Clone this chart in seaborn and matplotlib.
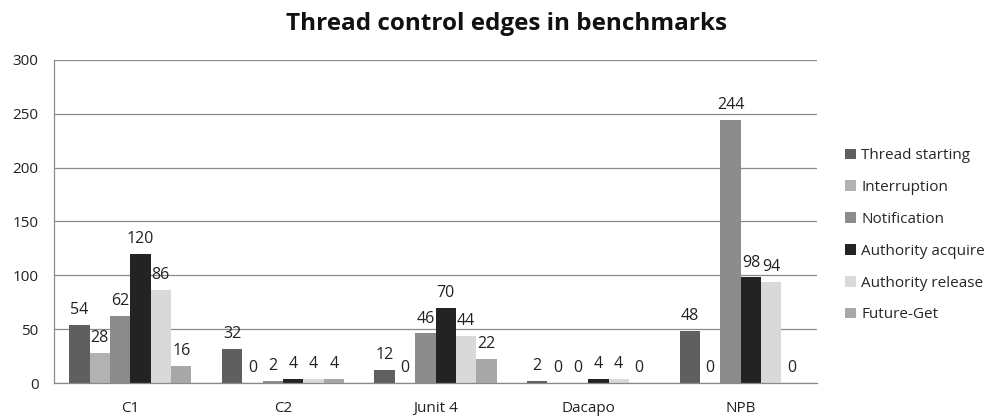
import numpy as np
import pandas as pd
import matplotlib
matplotlib.use("Agg")
import matplotlib.pyplot as plt
import seaborn as sns

# ------------------------------------------------------------------
# data
# ------------------------------------------------------------------
benchmarks = ["C1", "C2", "Junit 4", "Dacapo", "NPB"]
edge_types = ["Thread starting", "Interruption", "Notification",
              "Authority acquire", "Authority release", "Future-Get"]

thread_starting = [54, 32, 12, 2, 48]
interruption = [28, 0, 0, 0, 0]
notification = [62, 2, 46, 0, 244]
authority_acquire = [120, 4, 70, 4, 98]
authority_release = [86, 4, 44, 4, 94]
future_get = [16, 4, 22, 0, 0]

colors = ["#5f5f5f", "#b2b2b2", "#8c8c8c", "#232323", "#d9d9d9", "#a8a8a8"]

series = [thread_starting, interruption, notification,
          authority_acquire, authority_release, future_get]
rows = []
for name, vals in zip(edge_types, series):
    for bench, v in zip(benchmarks, vals):
        rows.append({"Benchmark": bench, "Edge": name, "Count": v})
df = pd.DataFrame(rows)

sns.set_style("white")
plt.rcParams["font.family"] = ["Open Sans", "DejaVu Sans"]

fig = plt.figure(figsize=(9.91, 4.19), dpi=100)
ax = fig.add_axes([0.0545, 0.0859, 0.770, 0.771])

sns.barplot(data=df, x="Benchmark", y="Count", hue="Edge",
            order=benchmarks, hue_order=edge_types,
            palette=colors, width=0.80, saturation=1,
            edgecolor="none", ax=ax)

for cont in ax.containers:
    ax.bar_label(cont, padding=5, fontsize=11.5, color="#222222")

ax.set_ylim(0, 300)
ax.set_yticks(range(0, 301, 50))
ax.yaxis.grid(True, color="#8a8a8a", linewidth=0.9)
ax.set_axisbelow(True)
ax.set_xlabel("")
ax.set_ylabel("")
for side in ["top", "right"]:
    ax.spines[side].set_visible(False)
for side in ["left", "bottom"]:
    ax.spines[side].set_color("#8a8a8a")
    ax.spines[side].set_linewidth(0.9)
ax.tick_params(axis="both", labelsize=11, colors="#222222", length=0)
ax.tick_params(axis="x", pad=13)
ax.tick_params(axis="y", pad=11)

fig.text(0.511, 0.943, "Thread control edges in benchmarks",
         ha="center", va="center", fontsize=17.5, fontweight="bold",
         color="#111111")

leg = ax.legend(loc="center left", bbox_to_anchor=(1.0367, 0.457),
                frameon=False, fontsize=11, handlelength=0.7,
                handleheight=0.7, handletextpad=0.35, labelspacing=1.1,
                borderpad=0, borderaxespad=0)

fig.savefig("out.png", dpi=100)
